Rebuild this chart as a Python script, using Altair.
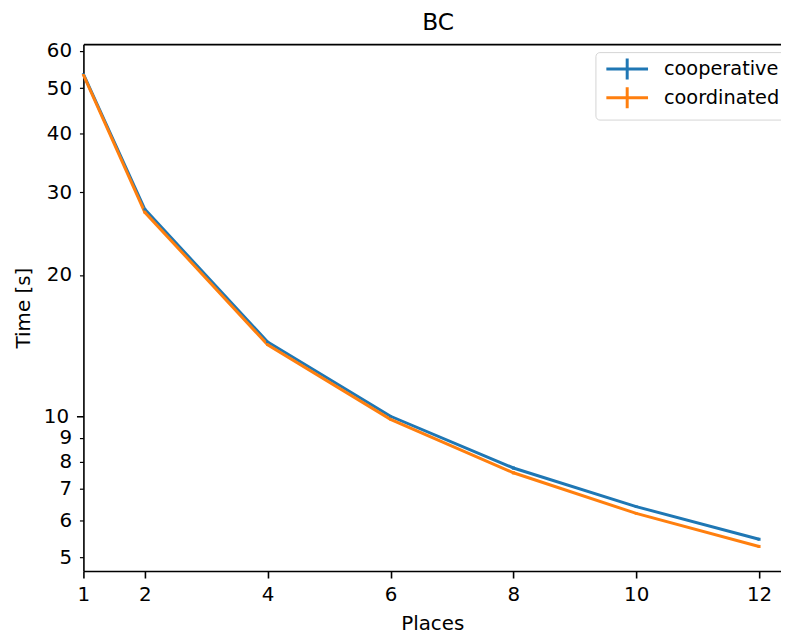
import altair as alt
import pandas as pd

FONT = "DejaVu Sans"

places = [1, 2, 4, 6, 8, 10, 12]
cooperative = [53.6, 27.6, 14.4, 10.0, 7.76, 6.42, 5.47]
coordinated = [53.4, 27.2, 14.2, 9.85, 7.58, 6.21, 5.28]
cooperative_err = [0.2, 0.15, 0.08, 0.05, 0.06, 0.04, 0.04]
coordinated_err = [0.2, 0.15, 0.08, 0.05, 0.06, 0.04, 0.04]
series_names = ["cooperative", "coordinated"]
series_colors = ["#1f77b4", "#ff7f0e"]
x_ticks = [1, 2, 4, 6, 8, 10, 12]
y_ticks = [5, 6, 7, 8, 9, 10, 20, 30, 40, 50, 60]

rows = []
for name, vals, errs in [("cooperative", cooperative, cooperative_err),
                         ("coordinated", coordinated, coordinated_err)]:
    for p, v, e in zip(places, vals, errs):
        rows.append({"places": p, "time": v, "lo": v - e, "hi": v + e, "series": name})
df = pd.DataFrame(rows)

x_scale = alt.Scale(domain=[1, 12.357], nice=False, zero=False)
y_scale = alt.Scale(type="log", domain=[4.68, 62.06], nice=False)

legend = alt.Legend(
    title=None, orient="none", legendX=516, legendY=8,
    symbolType="M-2,0L2,0M0,-1L0,1", symbolSize=441, symbolStrokeWidth=3,
    symbolOffset=15, labelOffset=25, padding=5, rowPadding=-5,
    labelFontSize=19.5, labelFont=FONT, labelColor="black", labelBaseline="middle",
    strokeColor="#d5d5d5", fillColor="rgba(255,255,255,0.8)", cornerRadius=4,
)
color = alt.Color("series:N", scale=alt.Scale(domain=series_names, range=series_colors), legend=legend)

x_axis = alt.Axis(
    values=x_ticks, title="Places", grid=False, labelFlush=False,
    tickSize=7, tickWidth=1.6, tickColor="black", labelPadding=7,
    domainColor="black", domainWidth=1.6,
    labelFont=FONT, labelFontSize=20, labelColor="black",
    titleFont=FONT, titleFontSize=20, titleFontWeight="normal", titleColor="black",
    titlePadding=9,
)
y_axis = alt.Axis(
    values=y_ticks, format="d", title="Time [s]", grid=False,
    tickSize={"condition": {"test": "datum.value === 10", "value": 7}, "value": 4},
    tickWidth={"condition": {"test": "datum.value === 10", "value": 1.6}, "value": 1.2},
    tickColor="black", labelPadding=8,
    domainColor="black", domainWidth=1.6,
    labelFont=FONT, labelFontSize=20, labelColor="black",
    titleFont=FONT, titleFontSize=20, titleFontWeight="normal", titleColor="black",
    titlePadding=10,
)
top_axis = alt.Axis(orient="top", labels=False, ticks=False, grid=False, title=None,
                    domainColor="black", domainWidth=1.6)

base = alt.Chart(df)
lines = base.mark_line(strokeWidth=3).encode(
    x=alt.X("places:Q", scale=x_scale, axis=x_axis),
    y=alt.Y("time:Q", scale=y_scale, axis=y_axis),
    color=color,
)
errbars = base.mark_rule(strokeWidth=3).encode(
    x=alt.X("places:Q", scale=x_scale, axis=None),
    y=alt.Y("lo:Q", scale=y_scale),
    y2="hi:Q",
    color=color,
)
top = base.mark_rule(opacity=0).encode(
    x=alt.X("places:Q", scale=x_scale, axis=top_axis),
)

chart = alt.layer(lines, errbars, top).resolve_axis(x="independent").properties(
    width=703, height=531,
    autosize=alt.AutoSizeParams(type="none"),
    padding={"left": 76, "top": 34, "right": 0, "bottom": 64},
    title=alt.TitleParams("BC", font=FONT, fontSize=23.5, fontWeight="normal",
                          color="black", offset=7, dx=6),
).configure_view(stroke=None).configure(font=FONT, background="white")

chart.save("out.html", embed_options={"renderer": "svg", "actions": False})
